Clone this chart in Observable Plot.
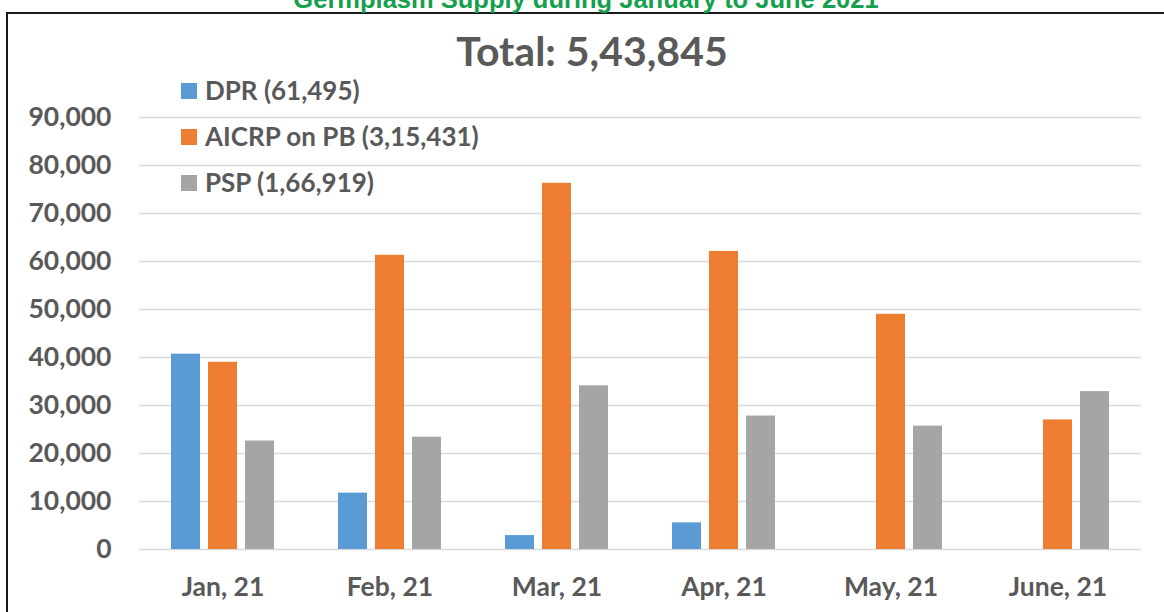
<!DOCTYPE html>
<html>
<head>
<meta charset="utf-8">
<script src="https://cdn.jsdelivr.net/npm/d3@7"></script>
<script src="https://cdn.jsdelivr.net/npm/@observablehq/plot@0.6"></script>
<style>
  html, body { margin: 0; padding: 0; background: #fff; }
  #wrap { position: relative; width: 1164px; height: 612px; overflow: hidden; }
  #chart, #overlay { position: absolute; left: 0; top: 0; }
  #overlay { pointer-events: none; }
</style>
</head>
<body>
<div id="wrap">
  <div id="chart"></div>
  <svg id="overlay" width="1164" height="612"></svg>
</div>
<script>
// ---- data ----
const months = ["Jan, 21", "Feb, 21", "Mar, 21", "Apr, 21", "May, 21", "June, 21"];
const series = ["DPR", "AICRP on PB", "PSP"];
const legendLabels = ["DPR (61,495)", "AICRP on PB (3,15,431)", "PSP (1,66,919)"];
const dpr   = [40700, 11750, 2900, 5550, 0, 0];
const aicrp = [39000, 61300, 76300, 62100, 49000, 27000];
const psp   = [22600, 23400, 34100, 27800, 25700, 32900];
const colors = ["#5b9bd5", "#ed7d31", "#a5a5a5"];
const yTicks = [0, 10000, 20000, 30000, 40000, 50000, 60000, 70000, 80000, 90000];
const titleText = "Germplasm Supply during January to June 2021";
const totalText = "Total: 5,43,845";

const seriesValues = [dpr, aicrp, psp];
const table = [];
months.forEach((m, i) => {
  series.forEach((s, j) => table.push({month: m, series: s, value: seriesValues[j][i]}));
});

const chart = Plot.plot({
  width: 1164,
  height: 612,
  marginLeft: 139,
  marginRight: 23,
  marginTop: 117,
  marginBottom: 63,
  style: {fontFamily: "Lato, sans-serif", fontSize: "26.5px", fontWeight: "bold", color: "#595959", background: "transparent"},
  facet: {data: table, x: "month"},
  fx: {domain: months, padding: 0, label: null, axis: "bottom", tickSize: 0, tickPadding: 28},
  x: {domain: series, paddingInner: 0.227, paddingOuter: 0.85, axis: null},
  y: {domain: [0, 90000], ticks: yTicks, tickFormat: d3.format(",d"), tickSize: 0, tickPadding: 28, label: null},
  color: {domain: series, range: colors},
  marks: [
    Plot.ruleY(yTicks, {stroke: "#d9d9d9", strokeWidth: 1.6}),
    Plot.barY(table, {x: "series", y: "value", fill: "series"})
  ]
});
document.getElementById("chart").appendChild(chart);

// ---- overlay: frame, titles, legend ----
const ov = d3.select("#overlay");
ov.append("path").attr("d", "M7,612V13H1164").attr("fill", "none").attr("stroke", "#1a1a1a").attr("stroke-width", 2);
ov.append("text").attr("x", 586).attr("y", 8).attr("text-anchor", "middle")
  .style("font-family", "'Liberation Sans', Arial, sans-serif").style("font-weight", "bold").style("font-size", "25.5px")
  .attr("fill", "#14a04c").text(titleText);
ov.append("text").attr("x", 592).attr("y", 66).attr("text-anchor", "middle")
  .style("font-family", "Lato, sans-serif").style("font-weight", "bold").style("font-size", "41px")
  .attr("fill", "#595959").text(totalText);
const lg = ov.append("g");
legendLabels.forEach((lab, i) => {
  const cy = 91 + i * 46;
  lg.append("rect").attr("x", 181).attr("y", cy - 8).attr("width", 16).attr("height", 16).attr("fill", colors[i]);
  lg.append("text").attr("x", 205).attr("y", cy).attr("dy", "0.35em")
    .style("font-family", "Lato, sans-serif").style("font-weight", "bold").style("font-size", "26px")
    .attr("fill", "#595959").text(lab);
});
</script>
</body>
</html>
